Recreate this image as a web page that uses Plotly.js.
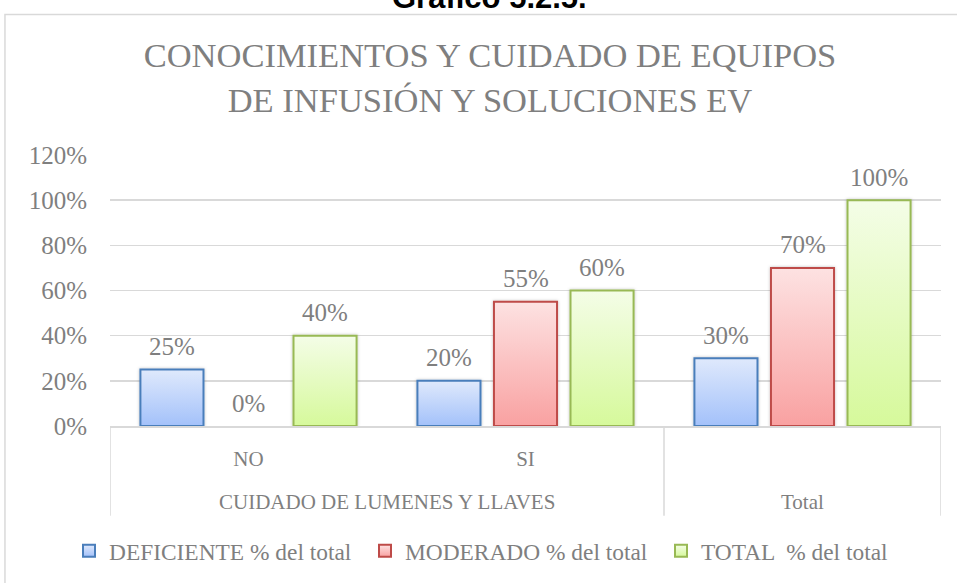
<!DOCTYPE html>
<html>
<head>
<meta charset="utf-8">
<script src="https://cdn.plot.ly/plotly-3.0.1.min.js"></script>
<style>
html,body{margin:0;padding:0;background:#fff;overflow:hidden;}
#chart{width:957px;height:583px;}
</style>
</head>
<body>
<div id="chart"></div>
<script>
// ---- data ----
const categories = ["NO", "SI", "Total"];
const tickLabels = ["NO", "SI", ""];
const groupLabels = ["CUIDADO DE LUMENES Y LLAVES", "Total"];
const groupCenters = [0.5, 2];
const groupBounds = [-0.5, 1.5, 2.5];
const seriesNames = ["DEFICIENTE % del total", "MODERADO % del total", "TOTAL  % del total"];
const deficiente = [0.25, 0.20, 0.30];
const moderado = [0.00, 0.55, 0.70];
const totalPct = [0.40, 0.60, 1.00];
const yTicks = [0, 0.2, 0.4, 0.6, 0.8, 1.0, 1.2];

// ---- styles ----
const seriesValues = [deficiente, moderado, totalPct];
const borderColors = ["#4a7ebb", "#be4b48", "#98b954"];
const midColors = ["#c0d5fb", "#fcc1c1", "#e6fbc4"];
const gradStops = [["#dfe9fc", "#a3c1fa"], ["#fde2e2", "#f9a1a1"], ["#f4fde7", "#d6f99b"]];
const gradIds = ["gBlue", "gRed", "gGreen"];
const labelShift = [-76.5, 0, 76.5];
const txt = "#7f7f7f";
const grid = "#d9d9d9";
const serif = "Liberation Serif";

const data = seriesValues.map((vals, i) => ({
  type: "bar",
  name: seriesNames[i],
  x: categories,
  y: vals,
  marker: {color: midColors[i], line: {color: borderColors[i], width: 2}},
  hoverinfo: "skip"
}));

const annotations = [];
seriesValues.forEach((vals, s) => {
  vals.forEach((v, c) => {
    annotations.push({
      x: categories[c], y: v, xref: "x", yref: "y",
      text: Math.round(v * 100) + "%",
      showarrow: false, yanchor: "middle", yshift: 23, xshift: labelShift[s],
      font: {family: serif, size: 25, color: txt}
    });
  });
});
groupLabels.forEach((g, i) => {
  annotations.push({
    x: groupCenters[i], y: -0.279, xref: "x", yref: "paper",
    text: g, showarrow: false, yanchor: "middle",
    font: {family: serif, size: 21, color: txt}
  });
});
annotations.push({
  x: 0.457, xref: "paper", y: 1.511, yref: "paper", xanchor: "center", yanchor: "bottom",
  text: "<b>Gráfico 5.2.5.</b>", showarrow: false,
  font: {family: "Liberation Sans", size: 31, color: "#000"}
});

const shapes = groupBounds.map(b => ({
  type: "line", xref: "x", yref: "paper", x0: b, x1: b, y0: 0, y1: -0.331,
  line: {color: grid, width: 1.5}
}));
shapes.push({
  type: "rect", xref: "paper", yref: "paper", x0: -0.1264, x1: 1.2, y0: 1.518, y1: -1,
  line: {color: grid, width: 1.5}, fillcolor: "rgba(0,0,0,0)", layer: "below"
});

const layout = {
  width: 957, height: 583,
  margin: {l: 110, r: 16, t: 155, b: 156},
  paper_bgcolor: "#fff", plot_bgcolor: "#fff",
  barmode: "group", bargap: 0.171, bargroupgap: 0.176,
  hovermode: false,
  title: {
    text: "CONOCIMIENTOS Y CUIDADO DE EQUIPOS<br>DE INFUSIÓN Y SOLUCIONES EV",
    font: {family: serif, size: 34.5, color: txt},
    x: 0.512, xref: "container", xanchor: "center",
    y: 1 - 67 / 583, yref: "container", yanchor: "top", pad: {t: 0, b: 0}
  },
  xaxis: {
    type: "category", range: [-0.5, 2.5],
    tickvals: categories, ticktext: tickLabels,
    showline: true, linecolor: grid, linewidth: 1.5,
    showgrid: false, ticks: "", ticklabelstandoff: 13,
    tickfont: {family: serif, size: 21, color: txt}, fixedrange: true
  },
  yaxis: {
    range: [0, 1.2], tickvals: yTicks, tickformat: ".0%",
    showgrid: true, gridcolor: grid, gridwidth: 1.5, zeroline: false,
    showline: false, ticks: "", ticklabelstandoff: 22,
    tickfont: {family: serif, size: 25, color: txt}, fixedrange: true
  },
  showlegend: true,
  legend: {
    orientation: "h", x: -0.0108, xanchor: "left", y: -0.456, yanchor: "middle",
    font: {family: serif, size: 23.4, color: txt},
    entrywidth: 251, entrywidthmode: "pixels", traceorder: "normal",
    bgcolor: "rgba(0,0,0,0)"
  },
  annotations: annotations,
  shapes: shapes
};

function applyGradients(gd) {
  const ns = "http://www.w3.org/2000/svg";
  const svg = gd.querySelector("svg.main-svg");
  if (!svg) return;
  let defs = svg.querySelector("defs");
  if (!defs) { defs = document.createElementNS(ns, "defs"); svg.insertBefore(defs, svg.firstChild); }
  gradIds.forEach((id, i) => {
    if (svg.querySelector("#" + id)) return;
    const lg = document.createElementNS(ns, "linearGradient");
    lg.setAttribute("id", id);
    lg.setAttribute("x1", "0"); lg.setAttribute("y1", "0");
    lg.setAttribute("x2", "0"); lg.setAttribute("y2", "1");
    gradStops[i].forEach((c, k) => {
      const st = document.createElementNS(ns, "stop");
      st.setAttribute("offset", k === 0 ? "0" : "1");
      st.setAttribute("stop-color", c);
      lg.appendChild(st);
    });
    defs.appendChild(lg);
  });
  if (!svg.querySelector("#barShadow")) {
    const f = document.createElementNS(ns, "filter");
    f.setAttribute("id", "barShadow");
    f.setAttribute("x", "-20%"); f.setAttribute("y", "-20%");
    f.setAttribute("width", "140%"); f.setAttribute("height", "140%");
    const ds = document.createElementNS(ns, "feDropShadow");
    ds.setAttribute("dx", "0"); ds.setAttribute("dy", "0");
    ds.setAttribute("stdDeviation", "1.6");
    ds.setAttribute("flood-color", "#000"); ds.setAttribute("flood-opacity", "0.25");
    f.appendChild(ds);
    defs.appendChild(f);
  }
  gd.querySelectorAll(".barlayer .trace.bars").forEach((t, i) => {
    t.querySelectorAll("path").forEach(p => {
      p.style.fill = "url(#" + gradIds[i] + ")";
      p.setAttribute("filter", "url(#barShadow)");
    });
  });
  gd.querySelectorAll(".legend .traces").forEach((t, i) => {
    t.querySelectorAll(".legendpoints path").forEach(p => {
      p.style.fill = "url(#" + gradIds[i] + ")";
    });
  });
}

const gd = document.getElementById("chart");
Plotly.newPlot(gd, data, layout, {staticPlot: true, displayModeBar: false}).then(() => {
  applyGradients(gd);
  gd.on("plotly_afterplot", () => applyGradients(gd));
});
</script>
</body>
</html>
